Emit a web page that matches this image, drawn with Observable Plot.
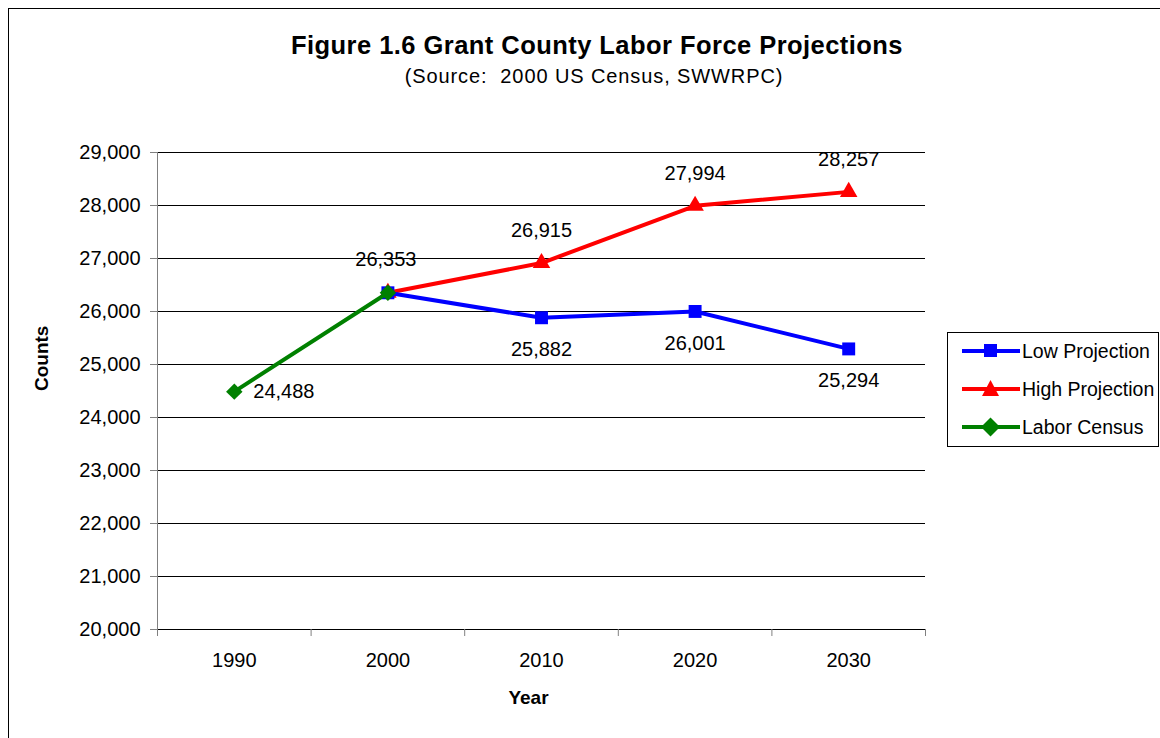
<!DOCTYPE html>
<html>
<head>
<meta charset="utf-8">
<script src="https://cdn.jsdelivr.net/npm/d3@7"></script>
<script src="https://cdn.jsdelivr.net/npm/@observablehq/plot@0.6"></script>
<style>
  html, body { margin: 0; padding: 0; background: #fff; }
  #wrap { position: relative; width: 1160px; height: 738px; overflow: hidden; font-family: "Liberation Sans", Arial, sans-serif; }
  #frame { position: absolute; left: 8px; top: 8px; width: 1200px; height: 800px; border: 1px solid #000; box-sizing: border-box; }
  #title { position: absolute; left: 0; width: 1194px; top: 33px; line-height: 1; text-align: center; font-weight: bold; font-size: 25.5px; letter-spacing: 0.45px; color: #000; white-space: nowrap; }
  #subtitle { position: absolute; left: 0; width: 1188px; top: 66px; line-height: 1; text-align: center; font-size: 20px; letter-spacing: 0.9px; color: #000; white-space: nowrap; }
  #chart { position: absolute; left: 0; top: 0; }
  #legend { position: absolute; left: 947px; top: 332px; width: 212px; height: 115px; border: 1px solid #000; box-sizing: border-box; background: #fff; }
  .lrow { position: absolute; left: 14px; height: 24px; display: flex; align-items: center; font-size: 19.5px; white-space: nowrap; }
  .lrow svg { display: block; margin-right: 2px; }
</style>
</head>
<body>
<div id="wrap">
  <div id="frame"></div>
  <div id="chart"></div>
  <div id="title">Figure 1.6 Grant County Labor Force Projections</div>
  <div id="subtitle">(Source:&nbsp; 2000 US Census, SWWRPC)</div>
  <div id="legend"></div>
</div>
<script>
// ---- data ----
const years = [1990, 2000, 2010, 2020, 2030];
const lowYears = [2000, 2010, 2020, 2030];
const lowValues = [26353, 25882, 26001, 25294];
const highYears = [2000, 2010, 2020, 2030];
const highValues = [26353, 26915, 27994, 28257];
const censusYears = [1990, 2000];
const censusValues = [24488, 26353];
const yTicks = [20000, 21000, 22000, 23000, 24000, 25000, 26000, 27000, 28000, 29000];
const seriesNames = ["Low Projection", "High Projection", "Labor Census"];
const seriesColors = ["#0000FF", "#FF0000", "#008000"];

const low = lowYears.map((y, i) => ({year: y, value: lowValues[i]}));
const high = highYears.map((y, i) => ({year: y, value: highValues[i]}));
const census = censusYears.map((y, i) => ({year: y, value: censusValues[i]}));
const boundaries = [years[0] - 5, ...years.map(y => y + 5)];
const fmt = d3.format(",");

const chart = Plot.plot({
  width: 1160,
  height: 738,
  marginLeft: 157,
  marginRight: 235,
  marginTop: 152,
  marginBottom: 109,
  style: {fontFamily: "Liberation Sans, Arial, sans-serif", fontSize: "20px", color: "#000", background: "transparent"},
  x: {domain: [boundaries[0], boundaries[boundaries.length - 1]], axis: null},
  y: {domain: [yTicks[0], yTicks[yTicks.length - 1]], axis: null},
  marks: [
    Plot.ruleY(yTicks.slice(1), {stroke: "#000", strokeWidth: 1}),
    Plot.ruleX([boundaries[0]], {stroke: "#808080", strokeWidth: 1}),
    Plot.ruleY([yTicks[0]], {stroke: "#000", strokeWidth: 1.2}),
    Plot.axisY({ticks: yTicks, tickFormat: fmt, tickSize: 7, tickPadding: 10, fontSize: 20, label: null, stroke: "#808080"}),
    Plot.axisX({ticks: boundaries, tickFormat: () => "", tickSize: 7, label: null, stroke: "#808080"}),
    Plot.text(years, {x: d => d, frameAnchor: "bottom", dy: 31, lineAnchor: "middle", text: d => String(d), fontSize: 20}),
    Plot.text(["Counts"], {frameAnchor: "left", dx: -116, rotate: -90, fontWeight: "bold", fontSize: 19}),
    Plot.text(["Year"], {frameAnchor: "bottom", dx: -13, dy: 68, lineAnchor: "middle", fontWeight: "bold", fontSize: 19}),
    // series
    Plot.line(high, {x: "year", y: "value", stroke: seriesColors[1], strokeWidth: 4}),
    Plot.dot(high, {x: "year", y: "value", symbol: "triangle", r: 6.5, fill: seriesColors[1], stroke: "none"}),
    Plot.line(low, {x: "year", y: "value", stroke: seriesColors[0], strokeWidth: 4}),
    Plot.dot(low, {x: "year", y: "value", symbol: "square", r: 7.3, fill: seriesColors[0], stroke: "none"}),
    Plot.line(census, {x: "year", y: "value", stroke: seriesColors[2], strokeWidth: 4}),
    Plot.dot(census, {x: "year", y: "value", symbol: "diamond2", r: 7.4, fill: seriesColors[2], stroke: "none"}),
    // labels
    Plot.text(high.slice(1), {x: "year", y: "value", text: d => fmt(d.value), dy: -32, lineAnchor: "middle", fontSize: 20}),
    Plot.text(low.slice(1), {x: "year", y: "value", text: d => fmt(d.value), dy: 32, lineAnchor: "middle", fontSize: 20}),
    Plot.text(census.slice(1), {x: "year", y: "value", text: d => fmt(d.value), dy: -33, dx: -2, lineAnchor: "middle", fontSize: 20}),
    Plot.text(census.slice(0, 1), {x: "year", y: "value", text: d => fmt(d.value), dx: 19, textAnchor: "start", lineAnchor: "middle", fontSize: 20})
  ]
});
document.getElementById("chart").appendChild(chart);

// legend
const legend = document.getElementById("legend");
const shapes = [
  '<rect x="22" y="5" width="13" height="13" fill="COL"/>',
  '<path d="M28.5,3 L37,19 L20,19 Z" fill="COL"/>',
  '<path d="M28.5,2.5 L38,12 L28.5,21.5 L19,12 Z" fill="COL"/>'
];
seriesNames.forEach((name, i) => {
  const row = document.createElement("div");
  row.className = "lrow";
  row.style.top = (6 + i * 38) + "px";
  const c = seriesColors[i];
  row.innerHTML = `<svg width="58" height="24"><line x1="0" x2="58" y1="12" y2="12" stroke="${c}" stroke-width="4"/>${shapes[i].replace("COL", c)}</svg><span>${name}</span>`;
  legend.appendChild(row);
});
</script>
</body>
</html>
